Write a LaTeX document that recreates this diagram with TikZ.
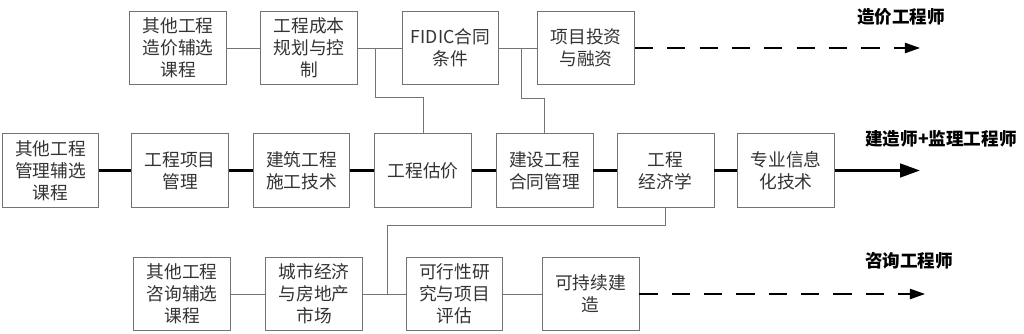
\documentclass[tikz,border=0pt]{standalone}
\usepackage{fontspec}
\setmainfont{Noto Sans CJK SC}
\usetikzlibrary{calc, arrows.meta}

\begin{document}
\begin{tikzpicture}[x=0.025cm, y=-0.025cm,
  kuang/.style={draw=black!55, line width=0.6pt, text=black!80, align=center,
    minimum width=2.42cm, minimum height=1.83cm, inner sep=0pt,
    font=\fontsize{12.6pt}{15.6pt}\selectfont},
  xi/.style={black!55, line width=0.6pt},
  cu/.style={black, line width=2pt},
  xu/.style={black, line width=1pt, dash pattern=on 13pt off 10pt,
    -{Triangle[length=0.38cm, width=0.26cm]}},
  biao/.style={font=\bfseries\fontsize{12.5pt}{15pt}\selectfont}
]

% 画布范围 1024 x 334（像素坐标，y 向下）
\useasboundingbox (0,0) rectangle (1024,334);

% 上排：造价方向
\node[kuang] (Z1) at (178,48)   {其他工程\\造价辅选\\课程};
\node[kuang] (Z2) at (309,48)   {工程成本\\规划与控\\制};
\node[kuang] (Z3) at (450.5,48) {FIDIC合同\\条件};
\node[kuang] (Z4) at (586,48)   {项目投资\\与融资};

% 中排：建造 + 监理方向
\node[kuang] (J1) at (50.5,170.5)  {其他工程\\管理辅选\\课程};
\node[kuang] (J2) at (180,170.5)   {工程项目\\管理};
\node[kuang] (J3) at (301.5,170.5) {建筑工程\\施工技术};
\node[kuang] (J4) at (423,170.5)   {工程估价};
\node[kuang] (J5) at (544.5,170.5) {建设工程\\合同管理};
\node[kuang] (J6) at (665.5,170.5) {工程\\经济学};
\node[kuang] (J7) at (786,170.5)   {专业信息\\化技术};

% 下排：咨询方向
\node[kuang] (C1) at (182,294)   {其他工程\\咨询辅选\\课程};
\node[kuang] (C2) at (314,294)   {城市经济\\与房地产\\市场};
\node[kuang] (C3) at (454.5,294) {可行性研\\究与项目\\评估};
\node[kuang] (C4) at (590.5,294) {可持续建\\造};

% 箭头终点
\coordinate (Zend) at (920,48);
\coordinate (Jend) at (920,170.5);
\coordinate (Cend) at (925,294);

% 上排连线（细灰线）
\draw[xi] (Z1) -- (Z2);
\draw[xi] (Z2) -- (Z3);
\draw[xi] (Z3) -- (Z4);
\draw[xu] (Z4.east) -- (Zend);

% 中排连线（粗黑线）
\foreach \a/\b in {J1/J2, J2/J3, J3/J4, J4/J5, J5/J6, J6/J7}
  \draw[cu] (\a) -- (\b);
\draw[cu, -{Triangle[length=0.5cm, width=0.34cm]}] (J7.east) -- (Jend);

% 下排连线（细灰线）
\draw[xi] (C1) -- (C2);
\draw[xi] (C2) -- (C3);
\draw[xi] (C3) -- (C4);
\draw[xu] (C4.east) -- (Cend);

% 分支：上排 -> 工程估价、建设工程合同管理
\coordinate (b1) at (375,48);
\coordinate (b2) at (521,48);
\draw[xi] (b1) -- (375,97) -| (J4.north);
\draw[xi] (b2) -- (521,98) -| (J5.north);

% 分支：工程经济学 -> 下排
\coordinate (b3) at (387,294);
\draw[xi] (J6.south) |- (387,225) -- (b3);

% 职业方向标注
\node[biao] (L1) at (901,17)  {造价工程师};
\node[biao] (L2) at (941,139) {建造师+监理工程师};
\node[biao] (L3) at (909,261) {咨询工程师};

\end{tikzpicture}
\end{document}
